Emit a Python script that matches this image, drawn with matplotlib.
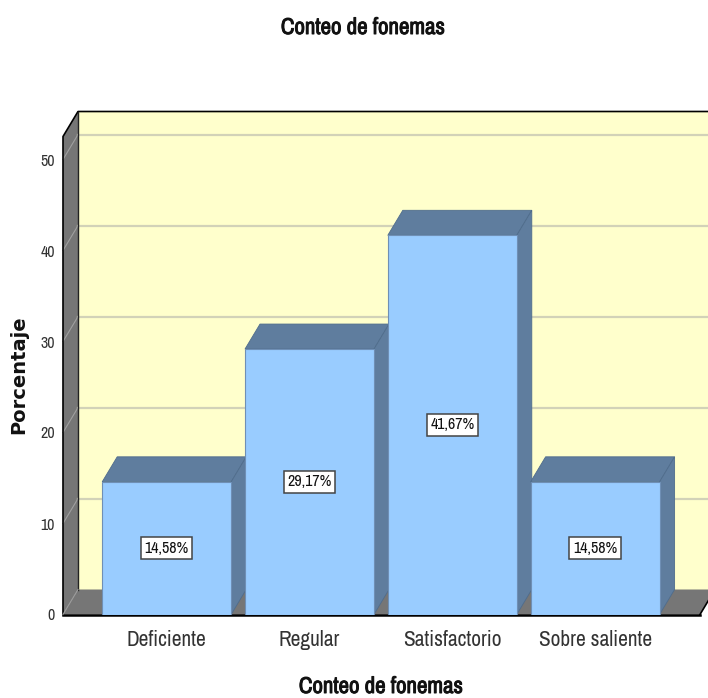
"""Conteo de fonemas: SPSS style pseudo-3D bar chart."""
import matplotlib
matplotlib.use("Agg")
import matplotlib.pyplot as plt
import matplotlib.patheffects as pe
from matplotlib.patches import Polygon

NARROW = ["Archivo Narrow", "Roboto Condensed", "Liberation Sans", "DejaVu Sans"]
plt.rcParams["font.family"] = NARROW

categories = ["Deficiente", "Regular", "Satisfactorio", "Sobre saliente"]
values = [14.58, 29.17, 41.67, 14.58]
labels = ["14,58%", "29,17%", "41,67%", "14,58%"]
yticks = [0, 10, 20, 30, 40, 50]

W, H = 708, 698
FACE = "#99CCFF"
SHADE = "#5F7D9E"
WALL = "#FFFFCC"
GREY = "#767676"
GRID = "#D2D2B8"

# pixel geometry of the front plane
PX_LEFT, PX_RIGHT, PX_BOTTOM, PX_TOP = 63, 700, 614.5, 136.5
PX_PER_CAT, PX_PER_UNIT = 142.8, 9.1
FIRST_CENTRE = 166.7

fig = plt.figure(figsize=(W / 100, H / 100), dpi=100)
ax = fig.add_axes([PX_LEFT / W, 1 - PX_BOTTOM / H,
                   (PX_RIGHT - PX_LEFT) / W, (PX_BOTTOM - PX_TOP) / H])
xmin = (PX_LEFT - FIRST_CENTRE) / PX_PER_CAT
xmax = (PX_RIGHT - FIRST_CENTRE) / PX_PER_CAT
ymax = (PX_BOTTOM - PX_TOP) / PX_PER_UNIT
ax.set_xlim(xmin, xmax)
ax.set_ylim(0, ymax)
ax.patch.set_visible(False)
for s in ax.spines.values():
    s.set_visible(False)

dx = 15 / PX_PER_CAT   # depth offset
dy = 25 / PX_PER_UNIT
width = 129 / PX_PER_CAT


def poly(pts, fc, ec="none", lw=0.0, z=1):
    ax.add_patch(Polygon(pts, closed=True, facecolor=fc, edgecolor=ec,
                         linewidth=lw, zorder=z, clip_on=False))


# back wall, left wall, floor
poly([(xmin + dx, dy), (xmax + dx, dy), (xmax + dx, ymax + dy), (xmin + dx, ymax + dy)], WALL, z=1)
poly([(xmin, 0), (xmin + dx, dy), (xmin + dx, ymax + dy), (xmin, ymax)], GREY, z=1)
poly([(xmin, 0), (xmax, 0), (xmax + dx, dy), (xmin + dx, dy)], GREY, z=1)

for t in yticks[1:]:
    ax.plot([xmin + dx, xmax + dx], [t + dy, t + dy], color=GRID, lw=1.6, zorder=2, clip_on=False)
    ax.plot([xmin, xmin + dx], [t, t + dy], color="#A0A0A0", lw=0.8, zorder=2, clip_on=False)

# frame
ax.plot([xmin, xmin, xmin + dx, xmax + dx], [0, ymax, ymax + dy, ymax + dy],
        color="black", lw=1.2, zorder=3, clip_on=False)
ax.plot([xmin + dx, xmin + dx], [dy, ymax + dy], color="#222222", lw=1.0, zorder=3, clip_on=False)
ax.plot([xmin, xmax], [0, 0], color="black", lw=1.8, zorder=3, clip_on=False)
ax.plot([xmin, xmin + dx], [0, dy], color="#9A9A9A", lw=0.8, zorder=3, clip_on=False)
ax.plot([xmax, xmax + dx], [0, dy], color="black", lw=1.2, zorder=3, clip_on=False)

# bars
for i, v in enumerate(values):
    l, r = i - width / 2, i + width / 2
    z = 5 + i
    poly([(l, v), (r, v), (r + dx, v + dy), (l + dx, v + dy)], SHADE, "#4F6C8C", 0.6, z)
    poly([(r, 0), (r + dx, dy), (r + dx, v + dy), (r, v)], SHADE, "#4F6C8C", 0.6, z)
    ax.bar(i, v, width=width, color=FACE, edgecolor="#6F8FB5", linewidth=0.8, zorder=z + 0.5)
    ax.text(i, v / 2, labels[i], ha="center", va="center", fontsize=11.5, color="#111111",
            zorder=20, bbox=dict(boxstyle="square,pad=0.22", fc="white", ec="#444444", lw=1.1))

ax.set_xticks(range(len(categories)))
ax.set_xticklabels(categories, fontsize=15.4, color="#333333")
ax.set_yticks(yticks)
ax.set_yticklabels([str(t) for t in yticks], fontsize=11.5, color="#333333")
ax.tick_params(axis="both", length=0)
ax.tick_params(axis="x", pad=11.5)
ax.tick_params(axis="y", pad=6)

# the narrow face has no bold cut here, thicken it with a stroke
fake_bold = [pe.withStroke(linewidth=0.7, foreground="#111111")]
fig.text(363 / W, 1 - 28 / H, "Conteo de fonemas", ha="center", va="center",
         fontsize=16.5, color="#111111", path_effects=fake_bold)
fig.text(381 / W, 1 - 687 / H, "Conteo de fonemas", ha="center", va="center",
         fontsize=16.5, color="#111111", path_effects=fake_bold)
fig.text(19 / W, 1 - 375 / H, "Porcentaje", ha="center", va="center", rotation=90,
         fontsize=14, fontweight="bold", color="#111111",
         family=["DejaVu Sans"])

fig.savefig("out.png", dpi=100)
